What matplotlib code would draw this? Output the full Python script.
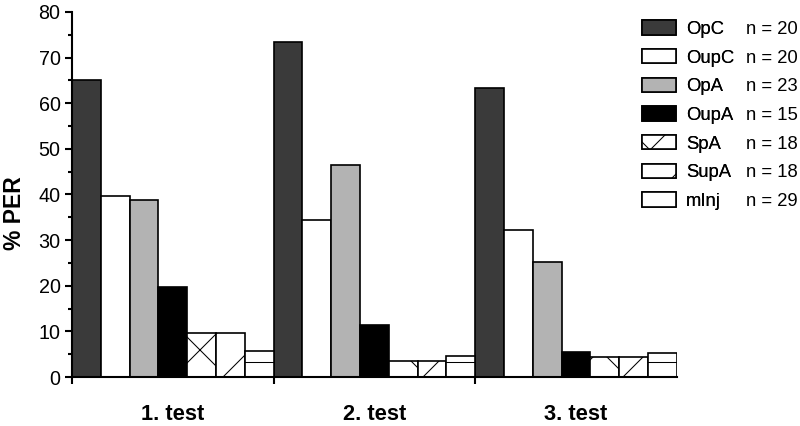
import matplotlib.pyplot as plt
import numpy as np

# grupos e series
testes = ["1. test", "2. test", "3. test"]
grupos = ["OpC", "OupC", "OpA", "OupA", "SpA", "SupA", "mInj"]
n_animais = [20, 20, 23, 15, 18, 18, 29]

# % PER de cada grupo em cada teste
per_opc = [65, 73.5, 63.3]
per_oupc = [39.7, 34.5, 32.3]
per_opa = [38.7, 46.5, 25.3]
per_oupa = [19.8, 11.5, 5.4]
per_spa = [9.7, 3.6, 4.3]
per_supa = [9.7, 3.6, 4.3]
per_minj = [5.7, 4.5, 5.3]

valores = [per_opc, per_oupc, per_opa, per_oupa, per_spa, per_supa, per_minj]

# estilo de cada barra: cor e hachura
cores = ["#3a3a3a", "white", "#b3b3b3", "black", "white", "white", "white"]
hachuras = [None, None, None, None, "x", "/", "-"]

plt.rcParams["font.family"] = ["Liberation Sans", "DejaVu Sans"]
plt.rcParams["hatch.linewidth"] = 0.5

fig = plt.figure(figsize=(800 / 150, 426 / 150), dpi=150)
ax = fig.add_axes([0.09, 0.115, 0.756, 0.857])

largura = 1 / len(grupos)
x = np.arange(len(testes))
barras = []
for i, nome in enumerate(grupos):
    b = ax.bar(x + i * largura, valores[i], width=largura, align="edge",
               color=cores[i], edgecolor="black", linewidth=0.8,
               hatch=hachuras[i], label=nome)
    barras.append(b)

ax.set_xlim(0, len(testes))
ax.set_ylim(0, 80)

# eixos so a esquerda e embaixo
ax.spines["top"].set_visible(False)
ax.spines["right"].set_visible(False)
ax.spines["left"].set_linewidth(1.0)
ax.spines["bottom"].set_linewidth(1.0)

ax.set_yticks(np.arange(0, 81, 10))
ax.set_yticks(np.arange(5, 80, 10), minor=True)
ax.tick_params(axis="y", which="major", length=3.5, width=1.0, labelsize=9.5, pad=2)
ax.tick_params(axis="y", which="minor", length=2, width=1.0)

# ticks nos limites dos grupos e nomes dos testes no meio
ax.set_xticks(x)
ax.set_xticklabels([])
ax.set_xticks(x + 0.5, minor=True)
ax.set_xticklabels(testes, minor=True, fontsize=10.5, fontweight="bold")
ax.tick_params(axis="x", which="major", length=3.5, width=1.0)
ax.tick_params(axis="x", which="minor", length=0, pad=13)

ax.set_ylabel("% PER", fontsize=11, fontweight="bold")
ax.yaxis.set_label_coords(-0.076, 0.45)

# legenda com nomes dos grupos
leg = fig.legend(handles=barras, labels=grupos, loc="upper left",
                 bbox_to_anchor=(0.802, 0.952), frameon=False, fontsize=8.9,
                 handlelength=1.84, handleheight=0.8, handletextpad=0.55,
                 labelspacing=0.6, borderpad=0, borderaxespad=0)

# segunda coluna com o n de cada grupo
rotulos_n = [f"n = {n}" for n in n_animais]
vazios = [plt.Rectangle((0, 0), 0, 0, visible=False) for _ in n_animais]
fig.legend(handles=vazios, labels=rotulos_n, loc="upper left",
           bbox_to_anchor=(0.933, 0.952), frameon=False, fontsize=8.9,
           handlelength=0, handleheight=0.8, handletextpad=0,
           labelspacing=0.6, borderpad=0, borderaxespad=0)
fig.add_artist(leg)

fig.savefig("out.png", dpi=150)
